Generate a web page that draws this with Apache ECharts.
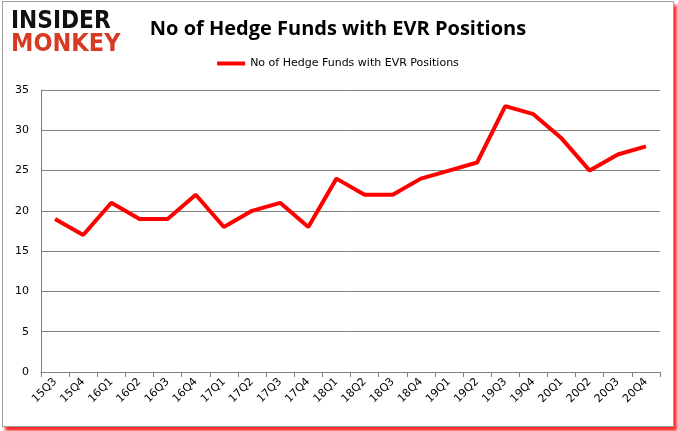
<!DOCTYPE html>
<html><head><meta charset="utf-8">
<script src="https://cdn.jsdelivr.net/npm/echarts@6/dist/echarts.min.js"></script>
<style>
html,body{margin:0;padding:0;background:#fff;}
#c{position:absolute;left:2px;top:1px;width:670px;height:424px;border:1px solid #a0a0a0;box-shadow:3px 4px 3px rgba(255,0,0,0.85);background:#fff;}
</style></head>
<body><div id="c"></div>
<script>
const categories = ['15Q3','15Q4','16Q1','16Q2','16Q3','16Q4','17Q1','17Q2','17Q3','17Q4','18Q1','18Q2','18Q3','18Q4','19Q1','19Q2','19Q3','19Q4','20Q1','20Q2','20Q3','20Q4'];
const hedgeFunds = [19,17,21,19,19,22,18,20,21,18,24,22,22,24,25,26,33,32,29,25,27,28];
const seriesName = 'No of Hedge Funds with EVR Positions';
const titleText = 'No of Hedge Funds with EVR Positions';

const chart = echarts.init(document.getElementById('c'));
chart.setOption({
  animation:false,
  title:{text:titleText,left:'center',top:12,textStyle:{fontFamily:'Open Sans',fontSize:20,fontWeight:'bold',color:'#000'}},
  legend:{top:51,left:'center',itemWidth:28,itemHeight:4,icon:'rect',textStyle:{fontFamily:'DejaVu Sans',fontSize:11,color:'#000'},itemGap:4},
  graphic:[
    {type:'text',x:8,y:7,scaleX:0.87,style:{text:'INSIDER',font:'bold 25px "DejaVu Sans"',fill:'#111'}},
    {type:'text',x:8,y:30,scaleX:0.9,style:{text:'MONKEY',font:'bold 25px "DejaVu Sans"',fill:'#d63a22'}}
  ],
  grid:{left:38,right:13,top:88,bottom:54},
  xAxis:{type:'category',data:categories,boundaryGap:true,
    axisLine:{lineStyle:{color:'#808080'}},axisTick:{show:true,alignWithLabel:false,lineStyle:{color:'#808080'}},
    axisLabel:{rotate:45,fontFamily:'DejaVu Sans',fontSize:11,color:'#000',margin:8}},
  yAxis:{type:'value',min:0,max:35,interval:5,
    axisLine:{show:true,lineStyle:{color:'#808080'}},axisTick:{show:false},
    splitLine:{lineStyle:{color:'#808080'}},
    axisLabel:{fontFamily:'DejaVu Sans',fontSize:11,color:'#000',margin:12}},
  series:[{name:seriesName,type:'line',data:hedgeFunds,symbol:'none',lineStyle:{color:'#ff0000',width:4},itemStyle:{color:'#ff0000'}}]
});
</script></body></html>
